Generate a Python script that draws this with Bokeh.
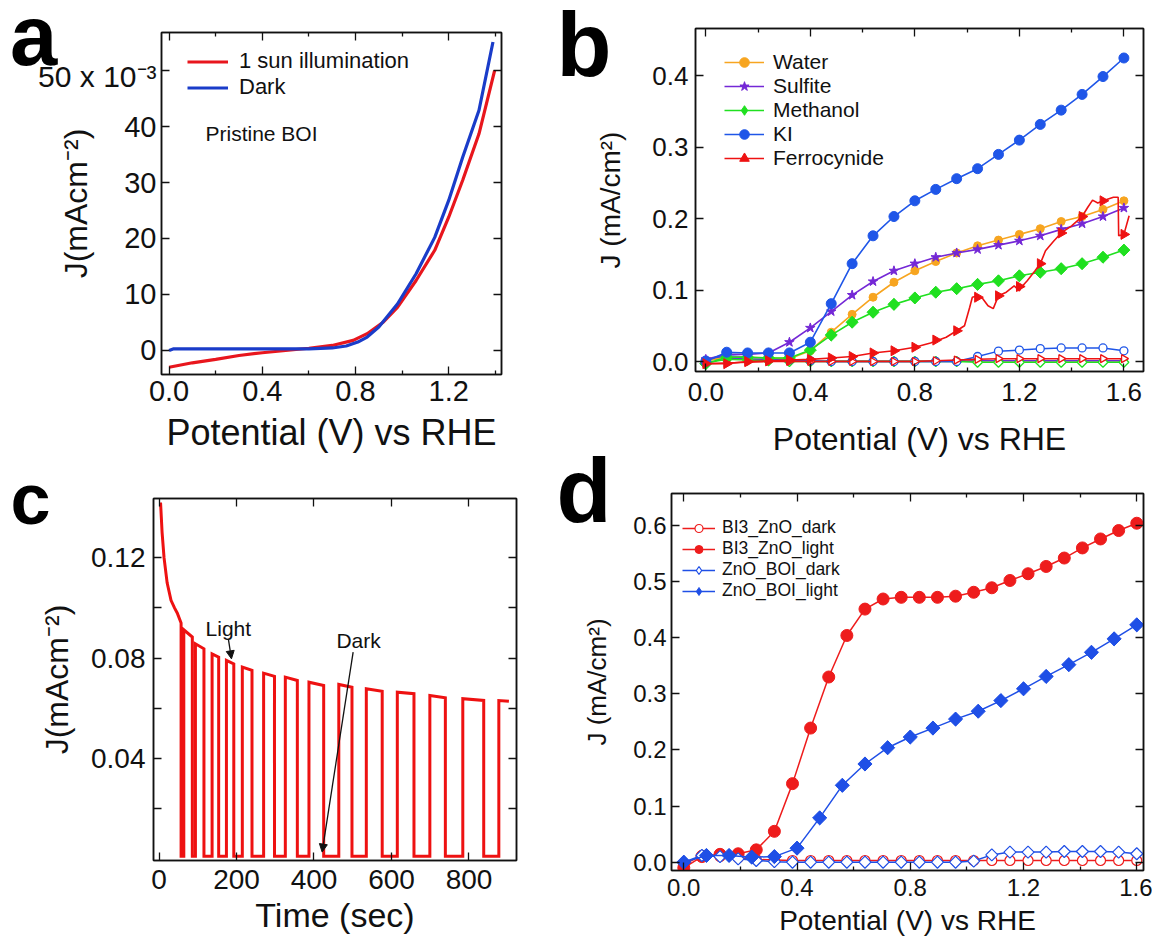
from bokeh.plotting import figure
from bokeh.models import (Range1d, LinearAxis, FixedTicker, Label, Arrow,
                          NormalHead, CustomJSTickFormatter, PrintfTickFormatter)
from bokeh.core.properties import value
from bokeh.embed import file_html
from bokeh.resources import INLINE

FONT = "Liberation Sans"
INK = "#111111"

# ---------------- panel a : pristine BOI, 1 sun vs dark (J in 10^-3 mA cm^-2) ----
a_v_sun = [0.00, 0.10, 0.20, 0.30, 0.40, 0.50, 0.60, 0.70, 0.79, 0.85, 0.92,
           0.98, 1.06, 1.14, 1.20, 1.26, 1.33, 1.397]
a_j_sun = [-3.0, -2.2, -1.6, -0.9, -0.4, 0.0, 0.4, 0.9, 1.8, 3.0, 5.1,
           7.7, 12.5, 17.9, 23.8, 30.4, 38.7, 50.0]
a_v_dark = [0.00, 0.02, 0.20, 0.40, 0.60, 0.70, 0.76, 0.81, 0.85, 0.90, 0.98,
            1.06, 1.14, 1.20, 1.26, 1.33, 1.39]
a_j_dark = [0.0, 0.3, 0.3, 0.3, 0.3, 0.45, 0.8, 1.5, 2.4, 4.2, 8.3,
            13.7, 20.2, 26.8, 34.5, 42.9, 55.1]

# ---------------- panel b : hole scavengers ----------------------------------
b_v = [0.00, 0.08, 0.16, 0.24, 0.32, 0.40, 0.48, 0.56, 0.64, 0.72, 0.80,
       0.88, 0.96, 1.04, 1.12, 1.20, 1.28, 1.36, 1.44, 1.52, 1.60]
b_water = [0.001, 0.006, 0.006, 0.005, 0.004, 0.015, 0.041, 0.066, 0.090, 0.111, 0.127,
           0.140, 0.152, 0.162, 0.170, 0.178, 0.186, 0.196, 0.203, 0.213, 0.225]
b_sulfite = [0.003, 0.010, 0.010, 0.012, 0.027, 0.047, 0.070, 0.093, 0.112, 0.127, 0.137,
             0.146, 0.152, 0.157, 0.163, 0.169, 0.176, 0.185, 0.193, 0.203, 0.215]
b_methanol = [-0.003, 0.006, 0.006, 0.005, 0.005, 0.016, 0.037, 0.055, 0.069, 0.080, 0.089,
              0.097, 0.102, 0.108, 0.113, 0.120, 0.125, 0.130, 0.137, 0.146, 0.156]
b_ki = [0.000, 0.013, 0.012, 0.012, 0.012, 0.027, 0.081, 0.137, 0.176, 0.203, 0.225,
        0.241, 0.256, 0.270, 0.290, 0.310, 0.332, 0.352, 0.374, 0.399, 0.425]
b_ferro = [-0.003, -0.003, 0.000, 0.001, 0.002, 0.003, 0.005, 0.007, 0.012, 0.015, 0.020,
           0.030, 0.043, 0.090, 0.092, 0.105, 0.137, 0.180, 0.203, 0.225, 0.178]
# ferrocyanide trace is noisy: full recorded line
b_ferro_trace_v = [0.00, 0.08, 0.16, 0.24, 0.32, 0.40, 0.48, 0.56, 0.64, 0.72, 0.80,
                   0.86, 0.92, 0.96, 0.99, 1.01, 1.02, 1.04, 1.06, 1.08, 1.10, 1.12,
                   1.15, 1.18, 1.20, 1.21, 1.23, 1.26, 1.28, 1.30, 1.33, 1.36, 1.40,
                   1.44, 1.46, 1.48, 1.50, 1.52, 1.56, 1.578, 1.58, 1.60, 1.62]
b_ferro_trace_j = [-0.003, -0.003, 0.000, 0.001, 0.002, 0.003, 0.005, 0.007, 0.012, 0.015, 0.020,
                   0.026, 0.034, 0.043, 0.050, 0.076, 0.090, 0.092, 0.088, 0.078, 0.074, 0.092,
                   0.097, 0.106, 0.099, 0.105, 0.113, 0.127, 0.137, 0.155, 0.168, 0.180, 0.190,
                   0.203, 0.215, 0.226, 0.222, 0.225, 0.230, 0.230, 0.176, 0.178, 0.204]
# dark scans
b_water_dark = [0.002, 0.004, 0.003, 0.002, 0.001, 0.001, 0.001, 0.001, 0.001, 0.001, 0.001,
                0.001, 0.001, 0.001, 0.001, 0.001, 0.001, 0.001, 0.001, 0.001, 0.001]
b_sulfite_dark = [0.002, 0.005, 0.004, 0.002, 0.001, 0.000, 0.000, 0.000, 0.000, 0.000, 0.000,
                  0.000, 0.000, 0.001, 0.001, 0.001, 0.001, 0.001, 0.001, 0.001, 0.001]
b_methanol_dark = [-0.002, 0.003, 0.002, 0.001, 0.000, 0.000, 0.000, 0.000, 0.000, 0.000, 0.000,
                   0.000, 0.000, -0.001, -0.001, -0.001, -0.001, -0.001, -0.001, -0.001, -0.001]
b_ki_dark = [0.002, 0.008, 0.006, 0.004, 0.002, 0.001, 0.000, 0.000, 0.000, 0.000, 0.000,
             0.000, 0.000, 0.007, 0.0145, 0.016, 0.018, 0.019, 0.019, 0.019, 0.015]
b_ferro_dark = [-0.003, -0.002, -0.001, 0.000, 0.000, 0.000, 0.000, 0.000, 0.000, 0.000, 0.000,
                0.001, 0.002, 0.003, 0.004, 0.004, 0.004, 0.004, 0.004, 0.004, 0.004]

# ---------------- panel c : chopped light, J vs time -------------------------
c_decay_t = [4, 8, 13, 21, 31, 40, 47, 57]
c_decay_j = [0.142, 0.130, 0.120, 0.110, 0.103, 0.100, 0.098, 0.094]
c_on_t = [64, 94, 137, 174, 215, 270, 326, 387, 464, 535, 615, 699, 784, 877]
c_off_t = [86, 116, 154, 193, 240, 298, 357, 425, 498, 576, 658, 739, 838, 903]
c_on_j_start = [0.0913, 0.0857, 0.0817, 0.0791, 0.0764, 0.0740, 0.0724,
                0.0704, 0.0695, 0.0678, 0.0664, 0.0651, 0.0638, 0.0631]
c_on_j_end = [0.0884, 0.0837, 0.0804, 0.0777, 0.0751, 0.0727, 0.0711,
              0.0691, 0.0684, 0.0668, 0.0658, 0.0642, 0.0631, 0.0628]
c_dark_j = 0.001

# ---------------- panel d : BI3/ZnO vs ZnO/BOI --------------------------------
d_v_fine = [0.000, 0.064, 0.128, 0.192, 0.256, 0.320, 0.384, 0.448, 0.512, 0.576,
            0.640, 0.704, 0.768, 0.832, 0.896, 0.960, 1.024, 1.088, 1.152, 1.216,
            1.280, 1.344, 1.408, 1.472, 1.536, 1.600]
d_bi3_light = [-0.010, 0.010, 0.014, 0.015, 0.022, 0.055, 0.140, 0.239, 0.330, 0.404,
               0.451, 0.469, 0.472, 0.472, 0.472, 0.474, 0.481, 0.489, 0.502, 0.514,
               0.527, 0.542, 0.560, 0.576, 0.591, 0.604]
d_bi3_dark = [-0.004, 0.012, 0.010, 0.008, 0.005, 0.004, 0.003, 0.003, 0.003, 0.003,
              0.003, 0.003, 0.003, 0.003, 0.003, 0.003, 0.003, 0.003, 0.003, 0.003,
              0.003, 0.003, 0.003, 0.003, 0.003, 0.003]
d_zno_dark = [0.000, 0.012, 0.010, 0.006, 0.003, 0.001, 0.000, 0.000, 0.000, 0.000,
              0.000, 0.000, 0.000, 0.000, 0.000, 0.000, 0.002, 0.013, 0.018, 0.018,
              0.018, 0.019, 0.019, 0.019, 0.018, 0.015]
d_v = [0.00, 0.08, 0.16, 0.24, 0.32, 0.40, 0.48, 0.56, 0.64, 0.72, 0.80,
       0.88, 0.96, 1.04, 1.12, 1.20, 1.28, 1.36, 1.44, 1.52, 1.60]
d_zno_light = [0.000, 0.012, 0.012, 0.009, 0.010, 0.025, 0.079, 0.137, 0.175, 0.204, 0.223,
               0.239, 0.255, 0.269, 0.288, 0.309, 0.331, 0.352, 0.374, 0.398, 0.423]

X_POT = [0.0, 0.4, 0.8, 1.2, 1.6]
X_POT_MINOR = [0.2, 0.6, 1.0, 1.4]
DIAMOND = 0.785398      # square turned 45 degrees
RIGHT = -1.5707963      # triangle turned to point right


def make_panel(name, width, height, xr, yr, left, right, top, bottom):
    p = figure(name=name, width=width, height=height,
               x_range=Range1d(*xr), y_range=Range1d(*yr),
               output_backend="svg", toolbar_location=None, tools="",
               min_border_left=left, min_border_right=right,
               min_border_top=top, min_border_bottom=bottom)
    p.grid.visible = False
    p.outline_line_color = INK
    p.outline_line_width = 1.5
    p.background_fill_color = "white"
    p.border_fill_color = "white"
    return p


def style_axis(ax, ticks, minor, fmt, tick_px, standoff, title, title_px, title_standoff,
               minor_len=4):
    ax.ticker = FixedTicker(ticks=ticks, minor_ticks=minor)
    ax.formatter = fmt
    ax.major_label_text_font = FONT
    ax.major_label_text_font_size = tick_px
    ax.major_label_text_color = INK
    ax.major_label_standoff = standoff
    ax.axis_label = title
    ax.axis_label_text_font = FONT
    ax.axis_label_text_font_size = title_px
    ax.axis_label_text_font_style = "normal"
    ax.axis_label_text_color = INK
    ax.axis_label_standoff = title_standoff
    ax.axis_line_color = INK
    ax.axis_line_width = 1.5
    ax.major_tick_in = 8
    ax.major_tick_out = 0
    ax.minor_tick_in = minor_len
    ax.minor_tick_out = 0
    ax.major_tick_line_color = INK
    ax.major_tick_line_width = 1.3
    ax.minor_tick_line_color = INK
    ax.minor_tick_line_width = 1.3


def mirror_axes(p, xticks, xminor, yticks, yminor, xminor_len=4, yminor_len=4):
    for loc, ticks, minor, mlen in (("above", xticks, xminor, xminor_len),
                                    ("right", yticks, yminor, yminor_len)):
        ax = LinearAxis(ticker=FixedTicker(ticks=ticks, minor_ticks=minor),
                        formatter=CustomJSTickFormatter(code="return ''"),
                        major_label_text_font_size="1px", major_label_standoff=0,
                        axis_line_color=INK, axis_line_width=1.5,
                        major_tick_in=8, major_tick_out=0,
                        minor_tick_in=mlen, minor_tick_out=0,
                        major_tick_line_color=INK, major_tick_line_width=1.3,
                        minor_tick_line_color=INK, minor_tick_line_width=1.3)
        p.add_layout(ax, loc)


def style_legend(p, x, y, glyph_w, row_h, standoff, font_px):
    lg = p.legend[0]
    lg.location = (x, y)
    lg.padding = 0
    lg.margin = 0
    lg.spacing = 0
    lg.border_line_color = None
    lg.background_fill_alpha = 0
    lg.glyph_width = glyph_w
    lg.glyph_height = row_h
    lg.label_height = row_h
    lg.label_standoff = standoff
    lg.label_text_font = FONT
    lg.label_text_font_size = font_px
    lg.label_text_color = INK


# ================================ panel a =====================================
pa = make_panel("panel_a", 540, 471, (-0.0326, 1.4266), (-4.29, 56.79), 161, 39, 32, 97)
style_axis(pa.xaxis[0], X_POT[:4], X_POT_MINOR, PrintfTickFormatter(format="%.1f"),
           "29px", 6, "Potential (V) vs RHE", "36px", 8)
style_axis(pa.yaxis[0], [0, 10, 20, 30, 40, 50], [], PrintfTickFormatter(format="%d"),
           "29px", 5, "J(mAcm\u207b\u00b2)", "32px", 27)
pa.yaxis[0].major_label_overrides = {50: ""}
mirror_axes(pa, X_POT[:4], X_POT_MINOR, [0, 10, 20, 30, 40, 50], [])
pa.line(a_v_sun, a_j_sun, line_color="#e8161d", line_width=3.2,
        legend_label="1 sun illumination")
pa.line(a_v_dark, a_j_dark, line_color="#1a3cc9", line_width=3.2, legend_label="Dark")
style_legend(pa, 26, 274, 41, 25, 11, "22px")
pa.add_layout(Label(x=44, y=241, x_units="screen", y_units="screen", text="Pristine BOI",
                    text_font=FONT, text_font_size="21px", text_color=INK,
                    text_align="left", text_baseline="middle"))

# ================================ panel b =====================================
pb = make_panel("panel_b", 612, 471, (-0.0394, 1.675), (-0.014, 0.4663), 155, 9, 28, 100)
style_axis(pb.xaxis[0], X_POT, X_POT_MINOR, PrintfTickFormatter(format="%.1f"),
           "26px", 11, "Potential (V) vs RHE", "32px", 17)
style_axis(pb.yaxis[0], [0.0, 0.1, 0.2, 0.3, 0.4], [], PrintfTickFormatter(format="%.1f"),
           "26px", 7, "J (mA/cm\u00b2)", "28px", 23)
mirror_axes(pb, X_POT, X_POT_MINOR, [0.0, 0.1, 0.2, 0.3, 0.4], [])

C_WATER, C_SULF, C_METH, C_KI, C_FERRO = "#f7a520", "#7428d6", "#20e020", "#1f56e8", "#ee1212"

# dark scans underneath
for vals, col, mk, ang, sz in ((b_water_dark, C_WATER, "circle", 0, 7),
                               (b_sulfite_dark, C_SULF, "star", 0, 8),
                               (b_methanol_dark, C_METH, "square", DIAMOND, 7),
                               (b_ki_dark, C_KI, "circle", 0, 8),
                               (b_ferro_dark, C_FERRO, "triangle", RIGHT, 8)):
    pb.line(b_v, vals, line_color=col, line_width=1.5)
    pb.scatter(b_v, vals, marker=mk, angle=ang, size=sz, line_color=col,
               fill_color="white", line_width=1.3)

pb.line(b_v, b_water, line_color=C_WATER, line_width=1.6, legend_label="Water")
pb.scatter(b_v, b_water, marker="circle", size=8, line_color=C_WATER, fill_color=C_WATER,
           legend_label="Water")
pb.line(b_v, b_sulfite, line_color=C_SULF, line_width=1.6, legend_label="Sulfite")
pb.scatter(b_v, b_sulfite, marker="star", size=10, line_color=C_SULF, fill_color=C_SULF,
           legend_label="Sulfite")
pb.line(b_v, b_methanol, line_color=C_METH, line_width=1.6, legend_label="Methanol")
# slim diamond sits hidden under the square-diamond and serves as the legend key
pb.scatter(b_v, b_methanol, marker="diamond", size=11, line_color=C_METH, fill_color=C_METH,
           legend_label="Methanol")
pb.scatter(b_v, b_methanol, marker="square", angle=DIAMOND, size=8.5, line_color=C_METH,
           fill_color=C_METH)
pb.line(b_v, b_ki, line_color=C_KI, line_width=1.6, legend_label="KI")
pb.scatter(b_v, b_ki, marker="circle", size=10, line_color=C_KI, fill_color=C_KI,
           legend_label="KI")
pb.line(b_ferro_trace_v, b_ferro_trace_j, line_color=C_FERRO, line_width=1.6,
        legend_label="Ferrocynide")
pb.scatter(b_v, b_ferro, marker="triangle", angle=RIGHT, size=10, line_color=C_FERRO,
           fill_color=C_FERRO, legend_label="Ferrocynide")
style_legend(pb, 29, 201, 40, 24, 9, "21px")

# ================================ panel c =====================================
pc = make_panel("panel_c", 540, 472, (-14.2, 922.6), (-0.00066, 0.1436), 153, 24, 27, 83)
style_axis(pc.xaxis[0], [0, 200, 400, 600, 800], [], PrintfTickFormatter(format="%d"),
           "28px", 9, "Time (sec)", "34px", 4)
style_axis(pc.yaxis[0], [0.04, 0.08, 0.12], [0.02, 0.06, 0.10],
           PrintfTickFormatter(format="%.2f"), "28px", 8, "J(mAcm\u207b\u00b2)", "32px", 13,
           minor_len=8)
mirror_axes(pc, [0, 200, 400, 600, 800], [], [0.04, 0.08, 0.12], [0.02, 0.06, 0.10],
            yminor_len=8)

c_t = list(c_decay_t) + [c_decay_t[-1]]
c_j = list(c_decay_j) + [c_dark_j]
for k in range(len(c_on_t)):
    c_t += [c_on_t[k], c_on_t[k], c_off_t[k]]
    c_j += [c_dark_j, c_on_j_start[k], c_on_j_end[k]]
    if k < len(c_on_t) - 1:
        c_t.append(c_off_t[k])
        c_j.append(c_dark_j)
pc.line(c_t, c_j, line_color="#ee1111", line_width=3, line_join="miter")

pc.add_layout(Label(x=179, y=0.0918, text="Light", text_font=FONT, text_font_size="21px",
                    text_color=INK, text_align="center", text_baseline="middle"))
pc.add_layout(Arrow(x_start=179, y_start=0.0876, x_end=187, y_end=0.0797,
                    line_width=1.3, line_color=INK,
                    end=NormalHead(size=8, fill_color=INK, line_color=INK)))
pc.add_layout(Label(x=515, y=0.087, text="Dark", text_font=FONT, text_font_size="21px",
                    text_color=INK, text_align="center", text_baseline="middle"))
pc.add_layout(Arrow(x_start=501, y_start=0.0824, x_end=421, y_end=0.0027,
                    line_width=1.3, line_color=INK,
                    end=NormalHead(size=8, fill_color=INK, line_color=INK)))

# ================================ panel d =====================================
pd = make_panel("panel_d", 612, 472, (-0.0434, 1.6238), (-0.0148, 0.657), 131, 9, 22, 73)
style_axis(pd.xaxis[0], X_POT, X_POT_MINOR, PrintfTickFormatter(format="%.1f"),
           "24px", 8, "Potential (V) vs RHE", "28px", 6)
style_axis(pd.yaxis[0], [0.0, 0.1, 0.2, 0.3, 0.4, 0.5, 0.6], [],
           PrintfTickFormatter(format="%.1f"), "24px", 5, "J (mA/cm\u00b2)", "26px", 18)
mirror_axes(pd, X_POT, X_POT_MINOR, [0.0, 0.1, 0.2, 0.3, 0.4, 0.5, 0.6], [])

D_RED, D_BLUE = "#ee1c1c", "#1f4fe6"
pd.line(d_v_fine, d_bi3_dark, line_color=D_RED, line_width=1.5, legend_label="BI3_ZnO_dark")
pd.scatter(d_v_fine, d_bi3_dark, marker="circle", size=10, line_color=D_RED,
           fill_color="white", line_width=1.2, legend_label="BI3_ZnO_dark")
pd.line(d_v_fine, d_bi3_light, line_color=D_RED, line_width=1.5, legend_label="BI3_ZnO_light")
pd.scatter(d_v_fine, d_bi3_light, marker="circle", size=12, line_color=D_RED,
           fill_color=D_RED, legend_label="BI3_ZnO_light")
pd.line(d_v_fine, d_zno_dark, line_color=D_BLUE, line_width=1.5, legend_label="ZnO_BOI_dark")
pd.scatter(d_v_fine, d_zno_dark, marker="diamond", size=11, line_color=D_BLUE,
           fill_color="white", line_width=1.2, legend_label="ZnO_BOI_dark")
pd.scatter(d_v_fine, d_zno_dark, marker="square", angle=DIAMOND, size=8.5,
           line_color=D_BLUE, fill_color="white", line_width=1.2)
pd.line(d_v, d_zno_light, line_color=D_BLUE, line_width=1.5, legend_label="ZnO_BOI_light")
pd.scatter(d_v, d_zno_light, marker="diamond", size=13, line_color=D_BLUE,
           fill_color=D_BLUE, legend_label="ZnO_BOI_light")
pd.scatter(d_v, d_zno_light, marker="square", angle=DIAMOND, size=10,
           line_color=D_BLUE, fill_color=D_BLUE)
style_legend(pd, 11, 269, 33, 20, 7, "17.5px")

# ===================== page-level lettering (panel tags) ======================
tags = figure(name="tags", width=1152, height=943, x_range=Range1d(0, 1152),
              y_range=Range1d(943, 0), x_axis_type=None, y_axis_type=None,
              output_backend="svg", toolbar_location=None, tools="", min_border=0)
tags.grid.visible = False
tags.outline_line_color = None
tags.background_fill_color = None
tags.border_fill_color = None
for txt, tx, ty, size in (("a", 9.5, 34.5, "85px"), ("b", 556, 44, "90px"),
                          ("c", 10, 498, "72px"), ("d", 556, 490, "90px")):
    tags.text(x=[tx], y=[ty], text=[txt], text_font=value(FONT), text_font_style="bold",
              text_font_size=value(size), text_color="black",
              text_align="left", text_baseline="alphabetic")
# scale note on the top tick of panel a
tags.text(x=[156], y=[76], text=["50 x 10\u207b\u00b3"], text_font=value(FONT),
          text_font_size=value("30px"), text_color=INK,
          text_align="right", text_baseline="middle")

CELL_POS = {"panel_a": [0, 0], "panel_b": [540, 0], "panel_c": [0, 471],
            "panel_d": [540, 471], "tags": [0, 0]}
PAGE = """
{% block root %}
<div style="position:absolute; left:{{ cell_pos.get(root.name, [0, 0])[0] }}px; top:{{ cell_pos.get(root.name, [0, 0])[1] }}px;">
<div id="{{ root.elementid }}" data-root-id="{{ root.id }}" style="display: contents;"></div>
</div>
{% endblock %}
"""

open("out.html", "w").write(file_html([pa, pb, pc, pd, tags], INLINE, template=PAGE,
                                      template_variables={"cell_pos": CELL_POS}))
